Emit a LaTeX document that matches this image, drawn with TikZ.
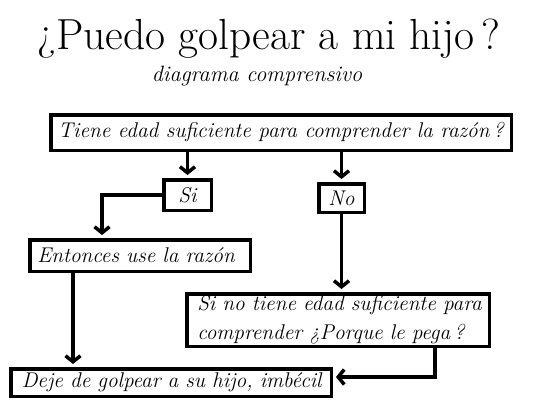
\documentclass[tikz,border=0pt]{standalone}
\usetikzlibrary{arrows.meta}
\begin{document}
\begin{tikzpicture}[x=1pt,y=-1pt,
  box/.style={draw,line width=3.5pt,inner sep=0pt,font=\fontsize{21.3}{28.5}\selectfont\itshape},
  arr/.style={line width=3.5pt,-{Straight Barb[length=6pt,width=15pt]},shorten >=3pt}]
\useasboundingbox[fill=white] (0,0) rectangle (533,418);
\node[anchor=base,font=\fontsize{43.5}{46}\selectfont] (title) at (269,49) {¿Puedo golpear a mi hijo\,?};
\node[anchor=base,font=\fontsize{22.2}{26}\selectfont\itshape] (sub) at (257,81) {diagrama comprensivo};
\node[box,minimum width=460.5pt,minimum height=35.5pt] (q) at (281,132.5) {Tiene edad suficiente para comprender la razón\,?};
\node[box,minimum width=47.5pt,minimum height=30.5pt] (si) at (187.5,195) {Si};
\node[box,minimum width=45.5pt,minimum height=28.5pt] (no) at (341.5,198) {No};
\node[box,minimum height=31.5pt,inner xsep=7.5pt,text width=205.5pt,align=left] (ent) at (140,255.5) {\mbox{Entonces use la razón}};
\node[box,minimum height=52.5pt,inner xsep=10.5pt,text width=281.5pt,align=left] (sino) at (338,320) {\mbox{Si no tiene edad suficiente para}\\\mbox{comprender ¿Porque le pega\,?}};
\node[box,minimum height=27.5pt,inner xsep=11pt,text width=298.5pt,align=left] (deje) at (171,382.5) {\mbox{Deje de golpear a su hijo, imbécil}};
\coordinate (xa) at (102,0);
\coordinate (xb) at (73,0);
\coordinate (k) at (435,377);
\draw[arr] (si.north |- q.south) -- (si.north);
\draw[arr] (no.north |- q.south) -- (no.north);
\draw[arr] (si.west) -| (xa |- ent.north);
\draw[arr] (no.south) -- (no.south |- sino.north);
\draw[arr] (xb |- ent.south) -- (xb |- deje.north);
\draw[arr] (k |- sino.south) |- (deje.east |- k);
\end{tikzpicture}
\end{document}
